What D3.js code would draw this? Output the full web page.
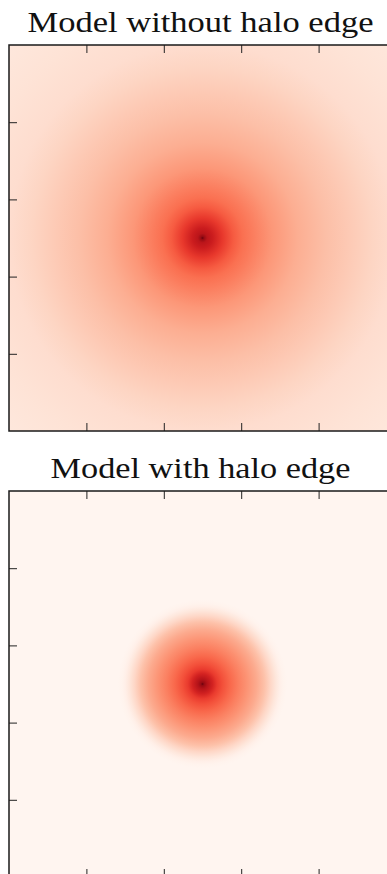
<!DOCTYPE html>
<html>
<head>
<meta charset="utf-8">
<script src="https://cdn.jsdelivr.net/npm/d3@7"></script>
<style>
  html, body { margin: 0; padding: 0; background: #fff; overflow: hidden; }
  svg { display: block; }
</style>
</head>
<body>
<div id="chart"></div>
<script>
// panel extent in model units, ticks inside on all four sides
const extent = [-2.5, 2.5];
const tickValues = [-1.5, -0.5, 0.5, 1.5];

const titles = ['Model without halo edge', 'Model with halo edge'];

// radial profile: radius (model units) -> Reds level (0..1)
const noEdgeRadius = [0, 0.02, 0.06, 0.13, 0.26, 0.4, 0.52, 0.65, 0.9, 1.23, 1.6, 1.88, 2.2, 2.5, 3.0, 3.6];
const noEdgeLevel  = [1.0, 0.9, 0.8, 0.75, 0.64, 0.54, 0.48, 0.44, 0.36, 0.29, 0.235, 0.2, 0.16, 0.125, 0.1, 0.075];

const edgeRadius = [0, 0.02, 0.06, 0.13, 0.19, 0.26, 0.36, 0.47, 0.58, 0.7, 0.8, 0.88, 0.95, 1.0, 1.04, 1.09, 3.6];
const edgeLevel  = [1.0, 0.9, 0.82, 0.72, 0.63, 0.57, 0.5, 0.43, 0.37, 0.3, 0.23, 0.15, 0.08, 0.035, 0.012, 0, 0];

const W = 387, H = 874;
const left = 9, size = 387;
const panelTops = [45, 491];

const svg = d3.select('#chart')
    .append('svg')
    .attr('width', W)
    .attr('height', H);

const defs = svg.append('defs');

const x = d3.scaleLinear().domain(extent).range([left, left + size]);

function drawPanel(i, radii, levels) {
  const top = panelTops[i];
  const y = d3.scaleLinear().domain(extent).range([top + size - 1, top]);
  const rMax = d3.max(radii);
  const rPx = x(rMax) - x(0);

  const grad = defs.append('radialGradient')
      .attr('id', 'grad' + i)
      .attr('gradientUnits', 'userSpaceOnUse')
      .attr('cx', x(0))
      .attr('cy', y(0))
      .attr('r', rPx);

  grad.selectAll('stop')
      .data(radii.map((r, k) => ({ r: r, t: levels[k] })))
      .enter()
      .append('stop')
      .attr('offset', d => d.r / rMax)
      .attr('stop-color', d => d3.interpolateReds(d.t));

  const g = svg.append('g');

  g.append('rect')
      .attr('x', x(extent[0]))
      .attr('y', y(extent[1]))
      .attr('width', x(extent[1]) - x(extent[0]))
      .attr('height', y(extent[0]) - y(extent[1]))
      .attr('fill', 'url(#grad' + i + ')');

  const tickLen = 8;
  const axes = [
    d3.axisTop(x).tickSizeInner(-tickLen),
    d3.axisBottom(x).tickSizeInner(-tickLen),
    d3.axisLeft(y).tickSizeInner(-tickLen),
    d3.axisRight(y).tickSizeInner(-tickLen)
  ];
  const shifts = [
    'translate(0,' + y(extent[1]) + ')',
    'translate(0,' + y(extent[0]) + ')',
    'translate(' + x(extent[0]) + ',0)',
    'translate(' + x(extent[1]) + ',0)'
  ];
  axes.forEach((ax, k) => {
    const a = g.append('g')
        .attr('transform', shifts[k])
        .call(ax.tickValues(tickValues).tickSizeOuter(0).tickFormat(''));
    a.select('.domain').remove();
    a.selectAll('.tick line').attr('stroke', '#222').attr('stroke-width', 1);
  });

  g.append('rect')
      .attr('x', x(extent[0]))
      .attr('y', y(extent[1]))
      .attr('width', x(extent[1]) - x(extent[0]))
      .attr('height', y(extent[0]) - y(extent[1]))
      .attr('fill', 'none')
      .attr('stroke', '#1a1a1a')
      .attr('stroke-width', 1.5);

  const title = g.append('text')
      .attr('x', x(0) - 2)
      .attr('y', top - 13)
      .attr('text-anchor', 'middle')
      .attr('font-family', '"Liberation Serif", "DejaVu Serif", serif')
      .attr('font-size', 30)
      .attr('fill', '#111')
      .text(titles[i]);
  title.attr('textLength', i === 0 ? 346 : 300).attr('lengthAdjust', 'spacingAndGlyphs');
}

drawPanel(0, noEdgeRadius, noEdgeLevel);
drawPanel(1, edgeRadius, edgeLevel);
</script>
</body>
</html>
